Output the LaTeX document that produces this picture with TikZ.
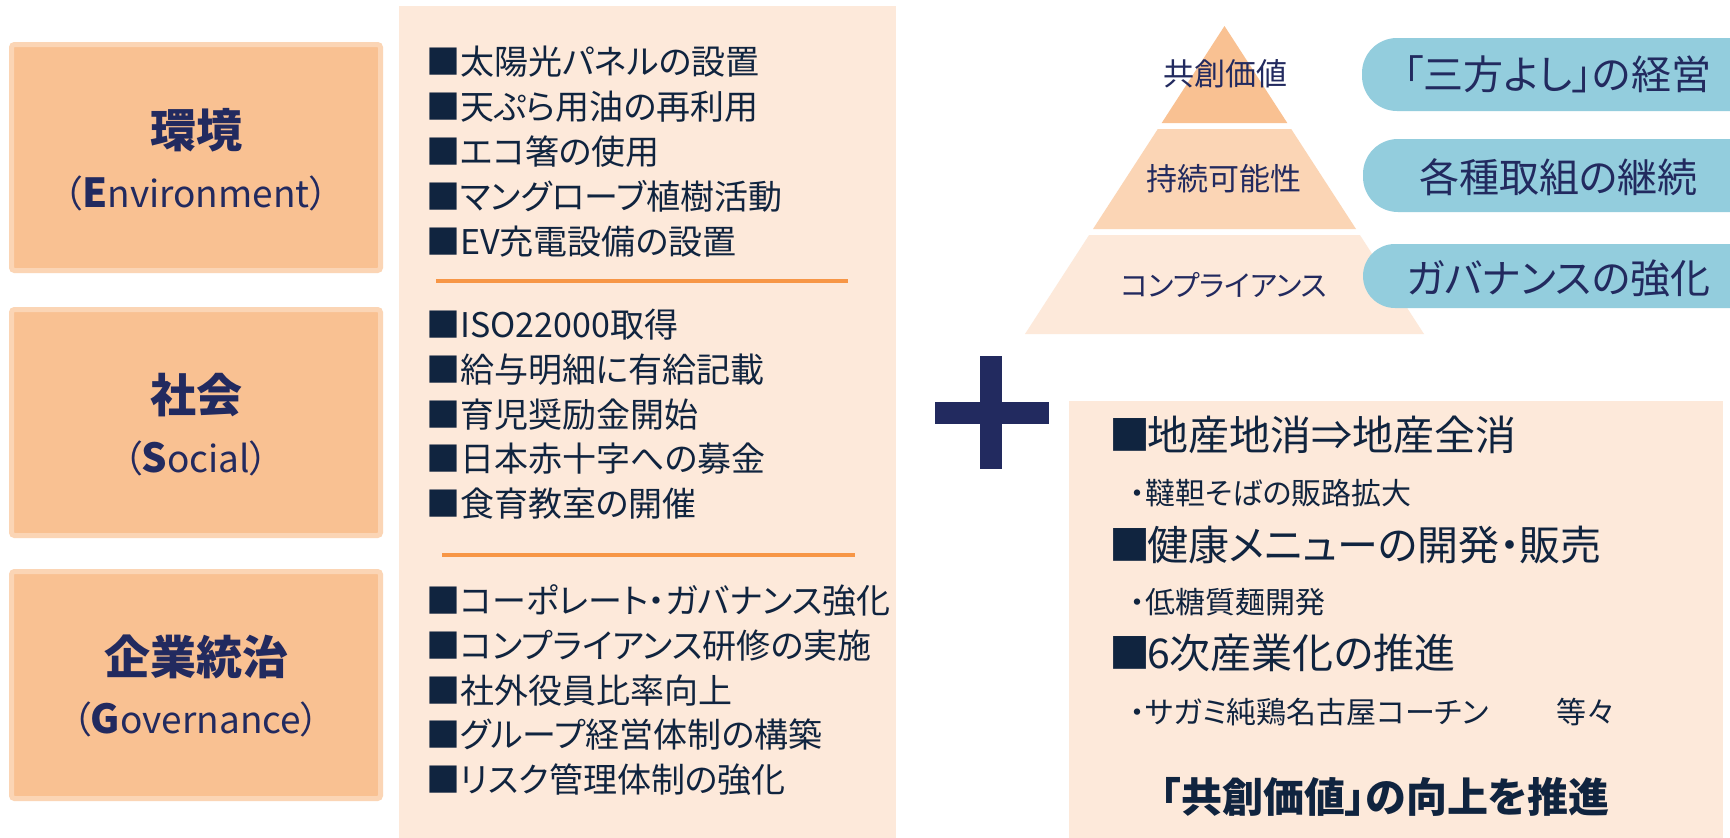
\documentclass[tikz,border=0pt]{standalone}
\usepackage{fontspec}
\setmainfont{Noto Sans CJK JP}[RawFeature=+palt]
\newcommand\myfs[1]{\fontsize{#1}{#1}\selectfont}
\definecolor{boxfill}{HTML}{F9C192}
\definecolor{boxborder}{HTML}{FBD5B5}
\definecolor{panel}{HTML}{FDE9DA}
\definecolor{pyrA}{HTML}{F9C192}
\definecolor{pyrB}{HTML}{FBD5B5}
\definecolor{pyrC}{HTML}{FDE9DA}
\definecolor{pillc}{HTML}{93CDDD}
\definecolor{sepc}{HTML}{F79646}
\definecolor{navy}{HTML}{222A5F}
\definecolor{itemc}{HTML}{10243F}
\begin{document}
\begin{tikzpicture}[x=1pt,y=-1pt,
  lbox/.style={draw=boxborder,line width=5pt,fill=boxfill,rounded corners=3pt,inner sep=0pt},
  ttl/.style={inner sep=0pt,text=navy,font={\myfs{46}\bfseries}},
  ttlsub/.style={inner sep=0pt,text=navy,font={\myfs{37}}},
  item/.style={anchor=west,inner sep=0pt,text=itemc,font={\myfs{34}}},
  sepline/.style={draw=sepc,line width=3.5pt},
  pyrtxt/.style={inner sep=0pt,text=navy,font={\myfs{31}}},
  pill/.style={fill=pillc,rounded corners=35pt},
  pilltxt/.style={inner sep=0pt,text=navy,font={\myfs{40}}},
  rbig/.style={anchor=west,inner sep=0pt,text=itemc,font={\myfs{41}}},
  rsub/.style={anchor=west,inner sep=0pt,text=itemc,font={\myfs{30}}},
  rbold/.style={inner sep=0pt,text=itemc,font={\myfs{41}\bfseries}}]
\useasboundingbox (0,0) rectangle (1730,838);
\clip (0,0) rectangle (1730,838);
\fill[white] (0,0) rectangle (1730,838);
% left category boxes
\node[lbox,minimum width=369pt,minimum height=226pt] (envbox) at (196,157.5) {};
\node[lbox,minimum width=369pt,minimum height=226pt] (socbox) at (196,422.5) {};
\node[lbox,minimum width=369pt,minimum height=227pt] (govbox) at (196,685) {};
\node[ttl] (envt) at (196,130) {環境};
\node[ttlsub] (envs) at (196,193) {（{\myfs{40}\bfseries E}nvironment）};
\node[ttl] (soct) at (196,395) {社会};
\node[ttlsub] (socs) at (196,458) {（{\myfs{40}\bfseries S}ocial）};
\node[ttl] (govt) at (196,657) {企業統治};
\node[ttlsub] (govs) at (196,719) {（{\myfs{40}\bfseries G}overnance）};
% middle panel
\fill[panel] (399,6) rectangle (896,838);
\draw[sepline] (436,281) -- (848,281);
\draw[sepline] (442,555) -- (855,555);
\foreach \t [count=\i] in {太陽光パネルの設置,天ぷら用油の再利用,エコ箸の使用,マングローブ植樹活動,EV充電設備の設置}
  \node[item] (env\i) at (426,{62+44.8*(\i-1)}) {■\t};
\foreach \t [count=\i] in {ISO22000取得,給与明細に有給記載,育児奨励金開始,日本赤十字への募金,食育教室の開催}
  \node[item] (soc\i) at (426,{325+44.6*(\i-1)}) {■\t};
\foreach \t [count=\i] in {コーポレート・ガバナンス強化,コンプライアンス研修の実施,社外役員比率向上,グループ経営体制の構築,リスク管理体制の強化}
  \node[item] (gov\i) at (426,{601+44.6*(\i-1)}) {■\t};
% pyramid
\fill[pyrA] (1224.5,26) -- (1287.3,123) -- (1161.7,123) -- cycle;
\fill[pyrB] (1157.8,129) -- (1291.2,129) -- (1356,229) -- (1093,229) -- cycle;
\fill[pyrC] (1089.1,235) -- (1359.9,235) -- (1424,334) -- (1025,334) -- cycle;
\node[pyrtxt] (p1) at (1225,74) {共創価値};
\node[pyrtxt] (p2) at (1224,179) {持続可能性};
\node[pyrtxt,font={\myfs{29}}] (p3) at (1224,285) {コンプライアンス};
% pills
\fill[pill] (1362,38) rectangle (1820,111);
\fill[pill] (1363,139) rectangle (1820,212);
\fill[pill,rounded corners=32pt] (1363,244) rectangle (1820,308);
\node[pilltxt] (q1) at (1557.5,74) {「三方よし」の経営};
\node[pilltxt] (q2) at (1558.5,177) {各種取組の継続};
\node[pilltxt] (q3) at (1558.5,278) {ガバナンスの強化};
% plus
\fill[navy] (934.5,402) rectangle (1048.5,424);
\fill[navy] (980,356) rectangle (1002,469);
% right panel
\fill[panel] (1069,401) rectangle (1723,838);
\node[rbig] (r1) at (1109,435) {■\hspace{-3pt}地産地消⇒地産全消};
\node[rsub] (r1s) at (1130,493) {・韃靼そばの販路拡大};
\node[rbig] (r2) at (1109,545) {■\hspace{-3pt}健康メニューの開発・販売};
\node[rsub] (r2s) at (1130,602) {・低糖質麺開発};
\node[rbig] (r3) at (1109,653) {■\hspace{-3pt}6次産業化の推進};
\node[rsub] (r3s) at (1130,712) {・サガミ純鶏名古屋コーチン};
\node[rsub] (r3e) at (1556,712) {等々};
\node[rbold] (rb) at (1385,797) {「共創価値」の向上を推進};
\end{tikzpicture}
\end{document}
